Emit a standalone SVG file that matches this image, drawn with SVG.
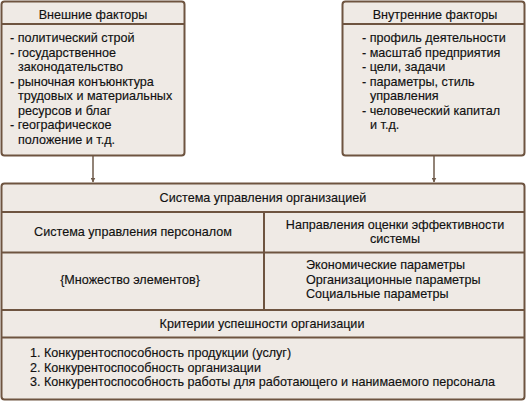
<svg xmlns="http://www.w3.org/2000/svg" width="527" height="402" viewBox="0 0 527 402">
<defs>
<style>
.box{fill:#efeae5;stroke:#6e5440;stroke-width:2}
.ln{stroke:#6e5440;stroke-width:2;fill:none}
.conn{stroke:#6e5a4a;stroke-width:1.5;fill:none}
text{font-family:"Liberation Sans",Arial,sans-serif;font-size:12.6px;fill:#111111;stroke:#111111;stroke-width:0.15}
.c{text-anchor:middle}
</style>
<marker id="arr" viewBox="0 0 10 10" refX="9" refY="5" markerWidth="5" markerHeight="5" orient="auto" markerUnits="userSpaceOnUse">
<path d="M0,0 L10,5 L0,10 z" fill="#6e5a4a"/>
</marker>
</defs>
<rect width="527" height="402" fill="#ffffff"/>
<g id="connectors">
<line class="conn" x1="93" y1="156" x2="93" y2="182" marker-end="url(#arr)"/>
<line class="conn" x1="434" y1="156" x2="434" y2="182" marker-end="url(#arr)"/>
</g>
<g id="external">
<rect class="box" x="1.5" y="1.5" width="183" height="154" rx="3"/>
<line class="ln" x1="1.5" y1="24" x2="184.5" y2="24"/>
<text class="c" x="93" y="19">Внешние факторы</text>
<text x="10" y="42">- политический строй</text>
<text x="10" y="56.5">- государственное</text>
<text x="18" y="71">законодательство</text>
<text x="10" y="85.5">- рыночная конъюнктура</text>
<text x="18" y="100">трудовых и материальных</text>
<text x="18" y="114.5">ресурсов и благ</text>
<text x="10" y="129">- географическое</text>
<text x="18" y="143.5">положение и т.д.</text>
</g>
<g id="internal">
<rect class="box" x="342.5" y="1.5" width="182" height="154" rx="3"/>
<line class="ln" x1="342.5" y1="24" x2="524.5" y2="24"/>
<text class="c" x="435" y="19">Внутренние факторы</text>
<text x="362" y="42">- профиль деятельности</text>
<text x="362" y="56.5">- масштаб предприятия</text>
<text x="362" y="71">- цели, задачи</text>
<text x="362" y="85.5">- параметры, стиль</text>
<text x="370" y="100">управления</text>
<text x="362" y="114.5">- человеческий капитал</text>
<text x="370" y="129">и т.д.</text>
</g>
<g id="system">
<rect class="box" x="1.5" y="183.5" width="523" height="216" rx="3"/>
<line class="ln" x1="1.5" y1="212" x2="524.5" y2="212"/>
<line class="ln" x1="1.5" y1="252.5" x2="524.5" y2="252.5"/>
<line class="ln" x1="1.5" y1="310" x2="524.5" y2="310"/>
<line class="ln" x1="1.5" y1="337.5" x2="524.5" y2="337.5"/>
<line class="ln" x1="264" y1="212" x2="264" y2="310"/>
<text class="c" x="263" y="202">Система управления организацией</text>
<text class="c" x="133" y="236">Система управления персоналом</text>
<text class="c" x="395" y="229">Направления оценки эффективности</text>
<text class="c" x="395" y="243">системы</text>
<text class="c" x="130" y="284">{Множество элементов}</text>
<text x="306" y="269">Экономические параметры</text>
<text x="306" y="283.5">Организационные параметры</text>
<text x="306" y="298">Социальные параметры</text>
<text class="c" x="262" y="327.5">Критерии успешности организации</text>
<text x="30" y="357">1. Конкурентоспособность продукции (услуг)</text>
<text x="30" y="371.5">2. Конкурентоспособность организации</text>
<text x="30" y="386">3. Конкурентоспособность работы для работающего и нанимаемого персонала</text>
</g>
</svg>
